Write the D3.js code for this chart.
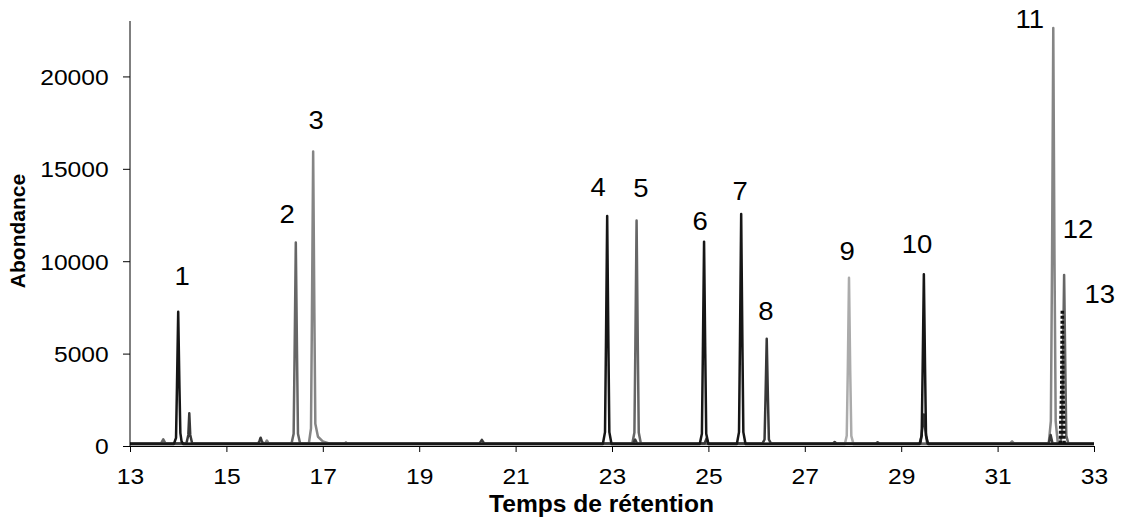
<!doctype html>
<html>
<head>
<meta charset="utf-8">
<title>Chromatogramme</title>
<script src="https://cdn.jsdelivr.net/npm/d3@7"></script>
<style>
  body { margin: 0; background: #fff; }
  svg { display: block; font-family: "Liberation Sans", Arial, sans-serif; }
</style>
</head>
<body>
<script>
// Tick values
const xTicks = [13, 15, 17, 19, 21, 23, 25, 27, 29, 31, 33];
const yTicks = [0, 5000, 10000, 15000, 20000];

// Traces: [retention time, abundance]
const traceBlack = [
  [13.0, 110], [13.91, 110], [13.955, 440], [13.975, 3300], [14.00, 7270], [14.025, 3300], [14.045, 700], [14.07, 250], [14.10, 110],
  [22.81, 110], [22.855, 750], [22.875, 5600], [22.90, 12450], [22.925, 5600], [22.945, 750], [22.99, 110],
  [24.82, 110], [24.865, 660], [24.885, 5000], [24.91, 11060], [24.935, 5000], [24.955, 660], [25.0, 110],
  [25.59, 110], [25.635, 750], [25.655, 5650], [25.68, 12550], [25.705, 5650], [25.725, 750], [25.77, 110],
  [29.38, 110], [29.425, 560], [29.445, 4200], [29.47, 9300], [29.495, 4200], [29.515, 560], [29.56, 110],
  [33.0, 110]
];
const traceDark = [
  [13.0, 130], [14.17, 130], [14.21, 600], [14.23, 1770], [14.25, 600], [14.29, 130],
  [15.66, 130], [15.69, 300], [15.71, 450], [15.73, 300], [15.76, 130],
  [20.25, 130], [20.28, 250], [20.30, 330], [20.32, 250], [20.35, 130],
  [23.44, 130], [23.48, 350], [23.52, 130],
  [24.92, 130], [24.96, 400], [25.0, 130],
  [26.12, 130], [26.165, 350], [26.185, 2600], [26.21, 5800], [26.235, 2600], [26.255, 350], [26.30, 130],
  [27.58, 130], [27.62, 220], [27.66, 130],
  [28.47, 130], [28.51, 200], [28.55, 130],
  [29.40, 130], [29.44, 1000], [29.47, 1700], [29.50, 900], [29.54, 130],
  [32.06, 130], [32.10, 600], [32.14, 130],
  [33.0, 130]
];
const traceGray = [
  [13.0, 120], [13.64, 120], [13.69, 360], [13.74, 120],
  [16.35, 120], [16.395, 660], [16.415, 5000], [16.44, 11010], [16.465, 5000], [16.485, 660], [16.53, 120],
  [23.42, 120], [23.465, 730], [23.485, 5500], [23.51, 12200], [23.535, 5500], [23.555, 730], [23.60, 120],
  [32.29, 120], [32.335, 560], [32.355, 4200], [32.38, 9260], [32.405, 4200], [32.425, 560], [32.47, 120],
  [33.0, 120]
];
const traceMid = [
  [13.0, 120], [15.80, 120], [15.84, 300], [15.88, 120],
  [16.71, 120], [16.755, 950], [16.775, 7200], [16.80, 15940], [16.825, 7200], [16.845, 1200], [16.90, 500], [17.0, 250], [17.15, 130],
  [17.45, 120], [17.48, 200], [17.51, 120],
  [31.25, 120], [31.30, 250], [31.35, 120],
  [32.06, 120], [32.105, 1350], [32.13, 10200], [32.155, 22620], [32.18, 10200], [32.205, 1350], [32.25, 120],
  [33.0, 120]
];
const traceLight = [
  [13.0, 100], [27.83, 100], [27.87, 550], [27.892, 4100], [27.917, 9100], [27.942, 4100], [27.965, 550], [28.01, 100], [33.0, 100]
];
const traceDotted = [
  [32.30, 120], [32.33, 3000], [32.343, 7370], [32.355, 3000], [32.38, 120]
];

// Peak labels and where they sit (data coordinates of the text baseline)
const peakNames = ["1", "2", "3", "4", "5", "6", "7", "8", "9", "10", "11", "12", "13"];
const peakLabelTimes = [14.08, 16.26, 16.86, 22.71, 23.60, 24.83, 25.66, 26.195, 27.876, 29.33, 31.67, 32.67, 33.12];
const peakLabelValues = [8700, 12070, 17155, 13530, 13475, 11690, 13313, 6819, 10066, 10445, 22621, 11257, 7739];

const width = 1121, height = 517;
const margin = {top: 21, right: 27, bottom: 71, left: 130};

const x = d3.scaleLinear().domain([13, 33]).range([margin.left, width - margin.right]);
const y = d3.scaleLinear().domain([0, 23000]).range([height - margin.bottom, margin.top]);

const series = [
  {data: traceLight, color: "#ababab", w: 2.5},
  {data: traceMid, color: "#858585", w: 2.5},
  {data: traceGray, color: "#666", w: 2.5},
  {data: traceDark, color: "#383838", w: 2.5},
  {data: traceBlack, color: "#161616", w: 2.5},
  {data: traceDotted, color: "#111", w: 3.5, dash: "3,2"}
];

const svg = d3.select("body").append("svg")
    .attr("width", width)
    .attr("height", height);

const line = d3.line()
    .x((d) => x(d[0]))
    .y((d) => y(d[1]));

svg.append("g")
    .attr("fill", "none")
    .attr("stroke-linejoin", "round")
  .selectAll("path")
  .data(series)
  .join("path")
    .attr("stroke", (d) => d.color)
    .attr("stroke-width", (d) => d.w)
    .attr("stroke-dasharray", (d) => d.dash || null)
    .attr("d", (d) => line(d.data));

// text in the reference is slightly wider than plain Arial
const stretch = (sel, k) => sel.attr("transform", `scale(${k},1)`);

const xAxis = svg.append("g")
    .attr("transform", `translate(0,${y(0)})`)
    .call(d3.axisBottom(x).tickValues(xTicks).tickFormat(d3.format("d")).tickSize(6).tickPadding(10).tickSizeOuter(0));

const yAxis = svg.append("g")
    .attr("transform", `translate(${x(13)},0)`)
    .call(d3.axisLeft(y).tickValues(yTicks).tickFormat(d3.format("d")).tickSize(7).tickPadding(12).tickSizeOuter(0));

yAxis.select(".domain").attr("d", `M0,${y(0)}V${margin.top}`);

for (const g of [xAxis, yAxis]) {
  g.selectAll("line, path").attr("stroke", "#000");
  g.selectAll("text")
      .attr("font-size", 22)
      .attr("font-family", "Liberation Sans, Arial, sans-serif")
      .attr("fill", "#000")
      .call(stretch, 1.12);
}
yAxis.selectAll("text").attr("dy", "0.36em");
xAxis.selectAll("text").attr("dy", "1.0em");

svg.append("g")
    .attr("font-size", 25)
    .attr("text-anchor", "middle")
  .selectAll("text")
  .data(peakNames)
  .join("text")
    .attr("transform", (d, i) => `translate(${x(peakLabelTimes[i])},${y(peakLabelValues[i])}) scale(1.1,1)`)
    .text((d) => d);

svg.append("text")
    .attr("transform", `translate(601.5,511.5) scale(1.07,1)`)
    .attr("text-anchor", "middle")
    .attr("font-weight", "bold")
    .attr("font-size", 23)
    .text("Temps de rétention");

svg.append("text")
    .attr("transform", "translate(25,231) rotate(-90)")
    .attr("text-anchor", "middle")
    .attr("font-weight", "bold")
    .attr("font-size", 21)
    .text("Abondance");
</script>
</body>
</html>
